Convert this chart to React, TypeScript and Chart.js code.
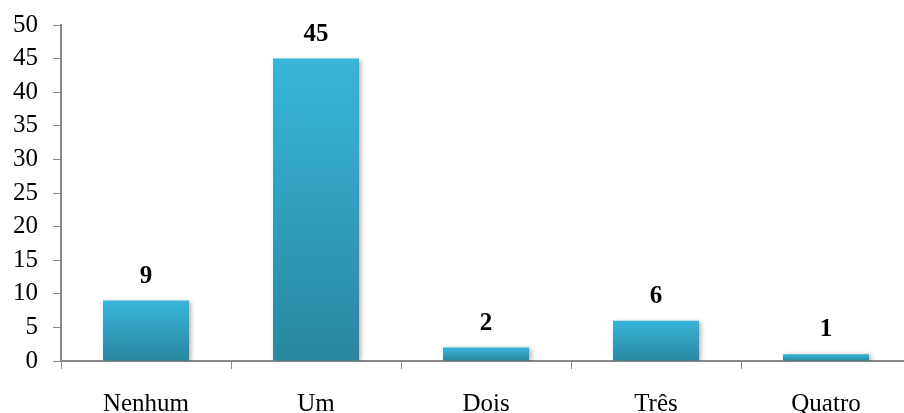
import React, { useEffect, useRef } from "react";
import { Chart, registerables } from "chart.js";

Chart.register(...registerables);

const categories = ["Nenhum", "Um", "Dois", "Três", "Quatro"];
const counts = [9, 45, 2, 6, 1];
const yTicks = [0, 5, 10, 15, 20, 25, 30, 35, 40, 45, 50];

const FONT = "'Liberation Serif', 'Times New Roman', serif";
const AXIS_GREY = "#888888";

// Draws each bar's value in bold above it.
const valueLabels = {
  id: "valueLabels",
  afterDatasetsDraw(chart: any) {
    const { ctx } = chart;
    const meta = chart.getDatasetMeta(0);
    ctx.save();
    ctx.font = `bold 25px ${FONT}`;
    ctx.fillStyle = "#000";
    ctx.textAlign = "center";
    ctx.textBaseline = "alphabetic";
    meta.data.forEach((bar: any, i: number) => {
      ctx.fillText(String(counts[i]), bar.x, bar.y - 18);
    });
    ctx.restore();
  },
};

// Soft drop shadow behind the bars.
const barShadow = {
  id: "barShadow",
  beforeDatasetDraw(chart: any) {
    const { ctx } = chart;
    ctx.save();
    ctx.shadowColor = "rgba(0,0,0,0.35)";
    ctx.shadowBlur = 5;
    ctx.shadowOffsetX = 2;
    ctx.shadowOffsetY = 1;
  },
  afterDatasetDraw(chart: any) {
    chart.ctx.restore();
  },
};

export default function App() {
  const canvasRef = useRef<HTMLCanvasElement | null>(null);

  useEffect(() => {
    const canvas = canvasRef.current;
    if (!canvas) return;

    const chart = new Chart(canvas, {
      type: "bar",
      data: {
        labels: categories,
        datasets: [
          {
            data: counts,
            backgroundColor: (context: any) => {
              const chartRef = context.chart;
              const yScale = chartRef.scales?.y;
              if (!yScale || context.dataIndex === undefined) return "#33a6c7";
              const top = yScale.getPixelForValue(counts[context.dataIndex]);
              const base = yScale.getPixelForValue(0);
              if (!isFinite(top) || !isFinite(base) || base - top < 1) return "#33a6c7";
              const g = chartRef.ctx.createLinearGradient(0, top, 0, base);
              g.addColorStop(0, "#38b5da");
              g.addColorStop(1, "#2a87a0");
              return g;
            },
            borderWidth: 0,
            barPercentage: 1,
            categoryPercentage: 0.506,
          },
        ],
      },
      options: {
        responsive: false,
        animation: false,
        layout: { padding: { top: 25, right: 9, left: 0, bottom: 0 } },
        plugins: {
          legend: { display: false },
          tooltip: { enabled: false },
        },
        scales: {
          x: {
            offset: true,
            grid: {
              offset: true,
              drawOnChartArea: false,
              drawTicks: true,
              tickLength: 8,
              color: AXIS_GREY,
            },
            border: { display: true, color: AXIS_GREY, width: 2 },
            ticks: {
              color: "#000",
              font: { family: FONT, size: 25 },
              padding: 20,
              maxRotation: 0,
            },
            afterFit: (scale: any) => {
              scale.height = 52;
              scale.paddingLeft = 0;
              scale.paddingRight = 0;
            },
          },
          y: {
            min: 0,
            max: 50,
            afterBuildTicks: (scale: any) => {
              scale.ticks = yTicks.map((v) => ({ value: v }));
            },
            grid: {
              drawOnChartArea: false,
              drawTicks: true,
              tickLength: 8,
              color: AXIS_GREY,
            },
            border: { display: true, color: AXIS_GREY, width: 2 },
            ticks: {
              color: "#000",
              font: { family: FONT, size: 25 },
              padding: 15,
            },
            afterFit: (scale: any) => {
              scale.width = 61;
              scale.paddingTop = 0;
              scale.paddingBottom = 0;
            },
          },
        },
      },
      plugins: [barShadow, valueLabels],
    });

    return () => chart.destroy();
  }, []);

  return (
    <div
      style={{
        position: "fixed",
        left: 0,
        top: 0,
        width: 904,
        height: 413,
        overflow: "hidden",
        background: "#fff",
      }}
    >
      <canvas ref={canvasRef} width={920} height={413} />
    </div>
  );
}
